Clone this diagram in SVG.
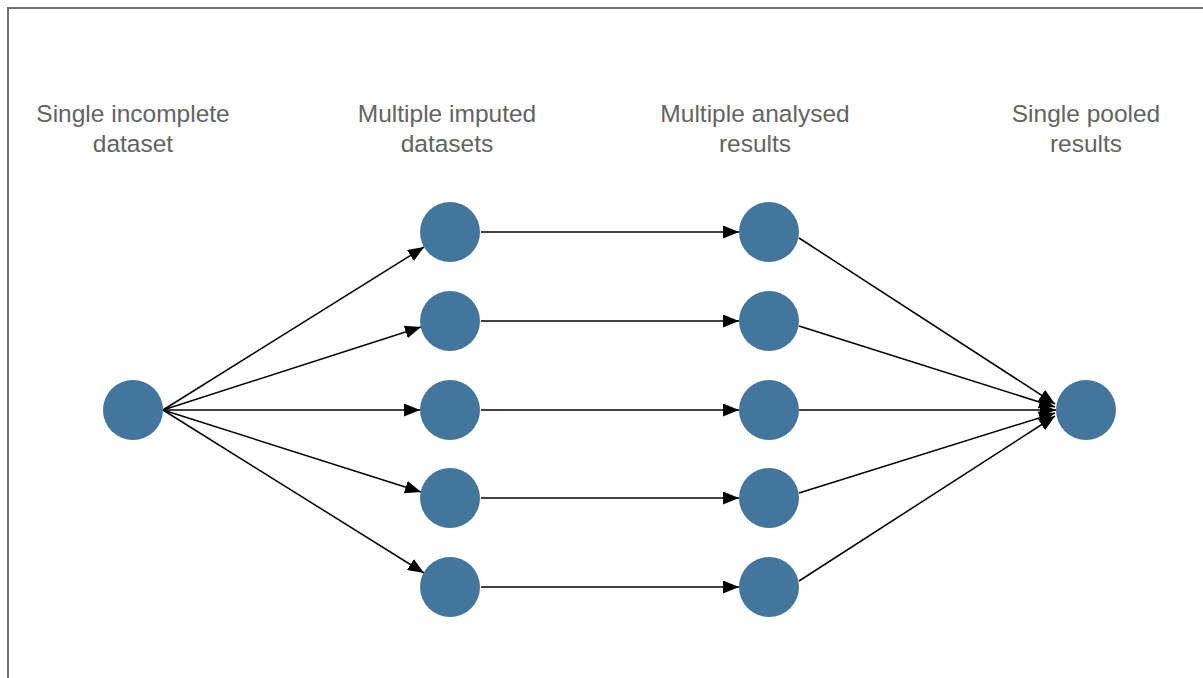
<svg xmlns="http://www.w3.org/2000/svg" width="1203" height="678" viewBox="0 0 1203 678">
<style>
.node{fill:#43769C;}
.lbl{font-family:"Liberation Sans",Arial,sans-serif;font-size:24.5px;fill:#636363;text-anchor:middle;}
.edge{stroke:#000;stroke-width:1.5;fill:none;marker-end:url(#arr);}
.frame{stroke:#6e6e6e;stroke-width:2;fill:none;}
</style>
<defs>
<marker id="arr" markerWidth="17" markerHeight="13" refX="16" refY="6.5" orient="auto" markerUnits="userSpaceOnUse">
<path d="M0,0 L16,6.5 L0,13 Z" fill="#000"/>
</marker>
</defs>
<rect width="1203" height="678" fill="#fff"/>
<path class="frame" d="M8,678 L8,8 L1203,8"/>
<g id="labels">
<text class="lbl" x="133" y="122">Single incomplete</text>
<text class="lbl" x="133" y="152">dataset</text>
<text class="lbl" x="447" y="122">Multiple imputed</text>
<text class="lbl" x="447" y="152">datasets</text>
<text class="lbl" x="755" y="122">Multiple analysed</text>
<text class="lbl" x="755" y="152">results</text>
<text class="lbl" x="1086" y="122">Single pooled</text>
<text class="lbl" x="1086" y="152">results</text>
</g>
<g id="connectors">
<line class="edge" x1="163" y1="410" x2="424" y2="247"/>
<line class="edge" x1="163" y1="410" x2="421" y2="327"/>
<line class="edge" x1="163" y1="410" x2="420" y2="410"/>
<line class="edge" x1="163" y1="410" x2="421" y2="492"/>
<line class="edge" x1="163" y1="410" x2="424" y2="573"/>
<line class="edge" x1="481" y1="232" x2="739" y2="232"/>
<line class="edge" x1="481" y1="321" x2="739" y2="321"/>
<line class="edge" x1="481" y1="410" x2="739" y2="410"/>
<line class="edge" x1="481" y1="498" x2="739" y2="498"/>
<line class="edge" x1="481" y1="587" x2="739" y2="587"/>
<line class="edge" x1="799" y1="238" x2="1055" y2="404"/>
<line class="edge" x1="799" y1="326" x2="1055" y2="407"/>
<line class="edge" x1="799" y1="410" x2="1056" y2="410"/>
<line class="edge" x1="799" y1="493" x2="1055" y2="413"/>
<line class="edge" x1="799" y1="581" x2="1055" y2="416"/>
</g>
<g id="n0"><circle class="node" cx="133" cy="410" r="30"/></g>
<g id="n1"><circle class="node" cx="450" cy="232" r="30"/></g>
<g id="n2"><circle class="node" cx="450" cy="321" r="30"/></g>
<g id="n3"><circle class="node" cx="450" cy="410" r="30"/></g>
<g id="n4"><circle class="node" cx="450" cy="498" r="30"/></g>
<g id="n5"><circle class="node" cx="450" cy="587" r="30"/></g>
<g id="m1"><circle class="node" cx="769" cy="232" r="30"/></g>
<g id="m2"><circle class="node" cx="769" cy="321" r="30"/></g>
<g id="m3"><circle class="node" cx="769" cy="410" r="30"/></g>
<g id="m4"><circle class="node" cx="769" cy="498" r="30"/></g>
<g id="m5"><circle class="node" cx="769" cy="587" r="30"/></g>
<g id="p"><circle class="node" cx="1086" cy="410" r="30"/></g>
</svg>
